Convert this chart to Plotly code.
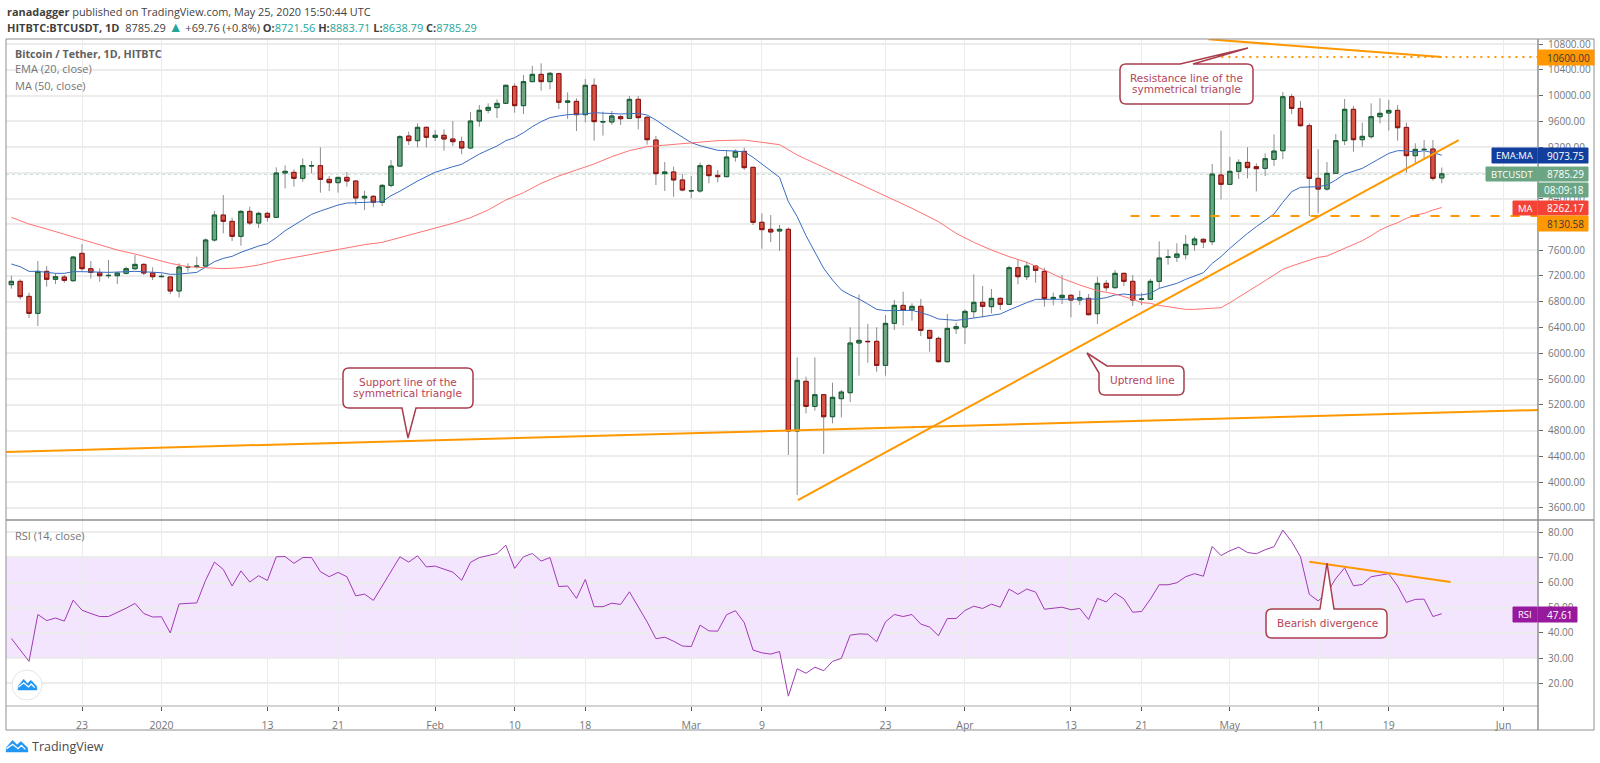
import pandas as pd
import plotly.graph_objects as go

# ---------- DATA ----------
dates = pd.date_range("2019-12-15", "2020-05-25", freq="D")

opens = [7065,7117,6884,6620,7272,7148,7184,7127,7551,7313,7251,7204,7204,7241,7313,7380,7246,
 7189,7184,6967,7339,7344,7354,7758,8146,8048,7815,8203,8022,8172,8110,8798,8808,8715,8907,8912,8699,8648,8730,8674,8410,8436,8343,8606,
 8906,9372,9300,9507,
 9352,9383,9326,9284,9186,9605,9771,9812,9879,10143,9843,10216,10329,10216,10340,9895,9910,9703,10159,9590,9590,9672,9646,9941,9662,9310,8788,8814,8690,
 8519,8519,8912,8762,8741,9046,9134,8886,8033,7924,7898,7924,4794,5565,5177,5358,5016,5296,5389,6160,6186,6186,5813,6465,6744,6672,6729,6356,6232,5870,6382,
 6408,6646,6791,6724,6853,6760,7329,7189,7355,7272,6848,6863,6900,6827,6853,6615,7086,7018,7241,7117,6838,6838,7117,7490,7490,7531,7686,7769,7732,8767,
 8622,8824,8963,8896,8870,9010,9144,9982,9801,9532,8715,8549,8793,9300,9786,9315,9362,9672,9729,9770,9506,9067,9160,9170,8721.56]
highs = [7204,7148,6941,7432,7355,7241,7215,7510,7696,7432,7318,7448,7267,7344,7525,7396,7334,
 7241,7199,7396,7396,7499,7784,8208,8456,8105,8220,8275,8198,8198,8886,8917,8855,9025,8984,9196,8751,8741,8813,8689,8524,8456,8627,9000,
 9388,9440,9569,9517,
 9465,9476,9605,9362,9745,9853,9879,9941,10170,10190,10319,10459,10500,10366,10355,10050,9957,10257,10267,9750,9760,9698,9993,9993,9683,9372,8969,8896,8783,
 8752,8958,8938,8845,9155,9165,9191,8896,8172,8146,7991,7955,5937,5637,5937,5358,5544,5430,6403,6915,6455,6403,6594,6827,6956,6775,6843,6361,6258,6610,6475,
 6682,7225,7044,6998,6868,7360,7463,7422,7370,7329,6941,7215,6920,6972,6920,7189,7137,7293,7251,7215,6941,7153,7738,7614,7707,7836,7810,7784,8937,9455,
 9051,9010,9196,8948,9103,9398,10055,10024,9915,9569,9165,8968,9403,9946,9838,9579,9879,9957,9931,9853,9579,9258,9310,9310,8883.71]
lows = [7003,6837,6548,6423,7034,7075,7096,7111,7282,7158,7111,7163,7075,7225,7293,7215,7137,
 7179,6920,6868,7267,7318,7334,7732,7861,7742,7670,7991,7944,8043,8105,8560,8586,8663,8793,8493,8518,8493,8586,8301,8224,8265,8286,8575,
 8896,9233,9196,9196,
 9295,9145,9217,9088,9176,9517,9724,9652,9869,9734,9714,10205,10076,10097,9791,9636,9450,9584,9300,9378,9548,9543,9636,9476,9238,8612,8519,8431,8514,
 8405,8493,8638,8653,8741,8974,8845,7991,7624,7727,7588,4422,3801,5068,5110,4437,4913,5006,5244,5653,5855,5715,5653,6361,6434,6506,6268,6025,5855,5855,6299,
 6144,6548,6558,6620,6672,6750,7070,7137,7096,6724,6744,6765,6558,6750,6589,6455,6962,7008,7044,6734,6750,6838,7008,7375,7417,7458,7593,7634,7680,8389,
 8612,8705,8715,8513,8751,8906,9015,9713,9517,8130,8172,8524,8782,9232,9129,9206,9331,9569,9455,9300,8803,8948,9000,8679,8638.79]
closes = [7117,6879,6620,7272,7148,7189,7132,7494,7313,7256,7204,7209,7246,7313,7380,7246,7189,
 7194,6967,7339,7344,7354,7758,8146,8048,7815,8203,8022,8172,8110,8798,8824,8715,8912,8912,8699,8648,8730,8674,8410,8436,8343,8606,8906,
 9362,9300,9507,9352,
 9383,9326,9284,9186,9605,9771,9817,9879,10159,9843,10216,10329,10216,10345,9895,9916,9703,10159,9595,9595,9683,9641,9941,9657,9315,8788,8814,8690,8534,
 8524,8912,8757,8741,9046,9134,8881,8033,7919,7883,7924,4794,5580,5177,5358,5016,5317,5399,6160,6201,6181,5813,6465,6744,6667,6729,6356,6232,5870,6387,6413,
 6651,6791,6729,6853,6760,7329,7189,7355,7287,6848,6868,6900,6827,6863,6599,7086,7018,7241,7117,6827,6843,7117,7479,7495,7541,7691,7774,7727,8782,8622,
 8824,8963,8881,8865,9020,9139,9982,9801,9532,8715,8549,8793,9300,9786,9315,9367,9672,9724,9770,9501,9067,9165,9165,8715,8785.29]

ema_dates = ["2019-12-15","2019-12-16","2019-12-17","2019-12-18","2019-12-19","2019-12-20","2019-12-21","2019-12-22","2019-12-23","2019-12-26","2019-12-29",
 "2020-01-01","2020-01-02","2020-01-03","2020-01-05","2020-01-06","2020-01-07","2020-01-08","2020-01-09","2020-01-10","2020-01-11","2020-01-12","2020-01-13","2020-01-14","2020-01-15","2020-01-16","2020-01-17","2020-01-18","2020-01-19","2020-01-20","2020-01-21","2020-01-22","2020-01-23","2020-01-24","2020-01-25","2020-01-26","2020-01-27","2020-01-28","2020-01-30",
 "2020-02-01","2020-02-03","2020-02-04","2020-02-06","2020-02-08","2020-02-09","2020-02-10","2020-02-11","2020-02-12","2020-02-13","2020-02-14","2020-02-15","2020-02-16","2020-02-17","2020-02-18","2020-02-19","2020-02-20","2020-02-21","2020-02-22","2020-02-23","2020-02-24","2020-02-25","2020-02-26","2020-02-27","2020-02-28","2020-02-29",
 "2020-03-01","2020-03-02","2020-03-03","2020-03-04","2020-03-05","2020-03-06","2020-03-07","2020-03-08","2020-03-09","2020-03-10","2020-03-11","2020-03-12","2020-03-13","2020-03-14","2020-03-15","2020-03-16","2020-03-17","2020-03-18","2020-03-19","2020-03-20","2020-03-21","2020-03-22","2020-03-23","2020-03-24","2020-03-25","2020-03-26","2020-03-27","2020-03-28","2020-03-29","2020-03-30","2020-03-31",
 "2020-04-01","2020-04-02","2020-04-03","2020-04-04","2020-04-05","2020-04-06","2020-04-07","2020-04-08","2020-04-09","2020-04-16","2020-04-17","2020-04-18","2020-04-19","2020-04-20","2020-04-21","2020-04-22","2020-04-23","2020-04-24","2020-04-25","2020-04-26","2020-04-27","2020-04-28","2020-04-29","2020-04-30",
 "2020-05-01","2020-05-02","2020-05-03","2020-05-04","2020-05-05","2020-05-06","2020-05-07","2020-05-08","2020-05-09","2020-05-10","2020-05-11","2020-05-12","2020-05-13","2020-05-14","2020-05-15","2020-05-16","2020-05-17","2020-05-18","2020-05-19","2020-05-20","2020-05-21","2020-05-22","2020-05-23","2020-05-24","2020-05-25"]
ema_vals = [7386,7344,7272,7272,7256,7241,7241,7267,7267,7256,7272,
 7251,7225,7230,7256,7334,7422,7473,7505,7567,7618,7665,7701,7794,7903,7991,8079,8156,8208,8260,8301,8332,8337,8343,8343,8353,8446,8516,8674,
 8809,8896,8933,9093,9217,9300,9346,9424,9517,9595,9657,9683,9703,9709,9714,9734,9724,9719,9714,9719,9724,9698,9621,9528,9440,9352,
 9269,9222,9181,9150,9145,9140,9129,9041,8938,8834,8731,8353,8120,7826,7577,7319,7137,6982,6905,6843,6765,6682,6662,6667,6667,6667,6631,6589,6532,6522,6512,
 6527,6553,6568,6589,6610,6672,6734,6786,6837,6843,6863,6905,6920,6905,6905,6931,7008,7044,7086,7148,7200,7251,7396,7500,
 7629,7748,7862,7965,8069,8162,8343,8508,8576,8586,8586,8612,8689,8782,8824,8870,8948,9025,9103,9144,9144,9124,9144,9113,9073.75]

ma_dates = ["2019-12-15","2019-12-17","2019-12-19","2019-12-21","2019-12-23","2019-12-25","2019-12-27","2019-12-29","2019-12-31",
 "2020-01-02","2020-01-04","2020-01-06","2020-01-08","2020-01-10","2020-01-12","2020-01-14","2020-01-16","2020-01-18","2020-01-20","2020-01-22","2020-01-24","2020-01-26","2020-01-28","2020-01-30",
 "2020-02-01","2020-02-03","2020-02-05","2020-02-07","2020-02-09","2020-02-11","2020-02-13","2020-02-15","2020-02-17","2020-02-19","2020-02-21","2020-02-23","2020-02-25","2020-02-27","2020-02-29",
 "2020-03-02","2020-03-04","2020-03-07","2020-03-09","2020-03-11","2020-03-13","2020-03-24","2020-03-26","2020-03-29","2020-03-31",
 "2020-04-02","2020-04-04","2020-04-06","2020-04-08","2020-04-10","2020-04-12","2020-04-14","2020-04-16","2020-04-18","2020-04-20","2020-04-21","2020-04-22","2020-04-23","2020-04-24","2020-04-25","2020-04-26","2020-04-27","2020-04-28","2020-04-29","2020-04-30",
 "2020-05-01","2020-05-02","2020-05-03","2020-05-04","2020-05-05","2020-05-06","2020-05-07","2020-05-08","2020-05-09","2020-05-10","2020-05-11","2020-05-12","2020-05-13","2020-05-14","2020-05-15","2020-05-16","2020-05-17","2020-05-18","2020-05-19","2020-05-20","2020-05-21","2020-05-22","2020-05-23","2020-05-24","2020-05-25"]
ma_vals = [8110,8006,7929,7846,7758,7680,7603,7541,7463,
 7396,7344,7323,7313,7329,7370,7437,7489,7541,7592,7644,7686,7722,7797,7862,
 7939,8017,8105,8224,8379,8493,8638,8752,8845,8938,9052,9145,9207,9233,9259,
 9284,9300,9310,9274,9238,9077,8379,8250,8043,7862,
 7722,7603,7500,7412,7293,7163,7060,6972,6920,6840,6786,6775,6744,6724,6703,6682,6682,6693,6693,6708,
 6786,6869,6957,7045,7127,7215,7303,7355,7396,7448,7489,7510,7567,7629,7691,7748,7825,7913,7975,8027,8094,8146,8172,8224,8262.17]

rsi_vals = [37.8,33.2,28.7,47.3,44.9,45.9,44.7,53.0,49.0,47.7,46.5,46.5,48.1,49.8,51.7,47.7,46.3,
 46.4,40.0,51.5,51.7,51.9,60.9,68.1,65.2,58.6,64.6,60.2,62.7,60.8,70.2,70.3,67.6,69.9,69.9,64.3,62.3,64.0,62.3,54.7,55.4,52.9,58.6,64.3,70.2,68.1,70.6,66.2,
 66.5,65.3,64.1,60.9,68.0,69.9,70.6,71.5,74.8,65.6,70.2,71.5,68.5,69.9,58.4,58.6,53.7,61.2,50.4,50.4,51.8,51.3,56.3,50.4,44.4,37.7,38.3,36.7,34.8,
 34.6,43.1,40.8,40.7,47.2,48.8,44.1,33.2,32.1,31.6,32.6,14.9,25.8,24.0,26.4,25.0,28.7,29.9,39.1,39.6,39.5,36.5,44.4,47.3,46.5,47.3,43.5,42.3,38.9,45.7,45.7,
 48.9,50.6,49.7,51.4,50.2,57.4,55.3,57.4,56.2,49.4,49.7,50.2,49.2,49.7,45.3,53.7,52.3,55.8,53.5,48.2,48.5,53.4,59.1,59.1,59.9,62.3,63.5,62.5,74.3,70.7,
 72.6,74.0,71.9,71.4,73.0,74.2,80.8,76.2,70.2,55.3,52.7,55.9,61.6,65.8,58.7,59.2,62.3,62.8,63.5,58.6,52.1,53.3,53.4,46.5,47.61]

support_dates = ["2019-12-14 09:26", "2020-06-04 21:35"]
support_vals = [4469, 5120]
uptrend_dates = ["2020-03-13 02:00", "2020-05-26 22:00"]
uptrend_vals = [3723, 9310]
resistance_dates = ["2020-04-28 14:00", "2020-05-25 00:00"]
resistance_vals = [10873, 10598]
rsi_trend_dates = ["2020-05-10 00:00", "2020-05-26 00:00"]
rsi_trend_vals = [68.2, 60.2]

hline_10600 = 10600.00
hline_8130 = 8130.58
last_price = 8785.29
price_ticks = list(range(3600, 11000, 400))
rsi_ticks = [20, 30, 40, 50, 60, 70, 80]
x_tick_dates = ["2019-12-23","2020-01-01","2020-01-13","2020-01-21","2020-02-01","2020-02-10","2020-02-18","2020-03-01","2020-03-09","2020-03-23","2020-04-01","2020-04-13","2020-04-21","2020-05-01","2020-05-11","2020-05-19","2020-06-01"]
x_tick_text = ["23","2020","13","21","Feb","10","18","Mar","9","23","Apr","13","21","May","11","19","Jun"]

# ---------- LAYOUT CONSTANTS ----------
W, H = 1600, 763
L, R, T, B = 6, 1538, 39, 706     # plot area in page pixels
SEP = 520                         # pane separator
X_RANGE = ["2019-12-14 09:26", "2020-06-04 21:35"]
FONT = "Open Sans"
CALL = "DejaVu Sans"
AX = "#757575"
GRID = "#ececec"
ORANGE = "#ff9800"
GREEN = "#6ba583"; GREEN_D = "#0f5c2e"
RED = "#d75442"; RED_D = "#8b0f0f"
PURPLE = "#a03ab4"
TEAL = "#26a69a"
AXF = 10

def xp(x): return (x - L) / (R - L)
def yp(y): return (B - y) / (B - T)

shapes, anns = [], []

def text(x, y, s, size=11, color=AX, anchor="left", font=FONT):
    anns.append(dict(xref="paper", yref="paper", x=xp(x), y=yp(y), text=s, showarrow=False,
                     xanchor=anchor, yanchor="middle", borderpad=0,
                     font=dict(family=font, size=size, color=color)))

def rect(x0, y0, x1, y1, fill, line=None):
    shapes.append(dict(type="rect", xref="paper", yref="paper", x0=xp(x0), x1=xp(x1), y0=yp(y0), y1=yp(y1),
                       fillcolor=fill, line=dict(color=line or fill, width=1), layer="above"))

def path(pts_cmds, fill=None, line=None, width=1):
    s = ""
    for c in pts_cmds:
        s += c[0]
        for i in range(1, len(c), 2):
            s += f" {xp(c[i]):.5f},{yp(c[i+1]):.5f} "
    shapes.append(dict(type="path", xref="paper", yref="paper", path=s + "Z" if fill else s,
                       fillcolor=fill or "rgba(0,0,0,0)",
                       line=dict(color=line or "rgba(0,0,0,0)", width=width), layer="above"))

def callout(x0, y0, x1, y1, side, t, r=6):
    c = []
    if side == "tl":
        c.append(("M", t[2][0], t[2][1]))
    else:
        c.append(("M", x0 + r, y0))
    if side == "top":
        c += [("L", *t[0]), ("L", *t[1]), ("L", *t[2])]
    c += [("L", x1 - r, y0), ("Q", x1, y0, x1, y0 + r), ("L", x1, y1 - r), ("Q", x1, y1, x1 - r, y1)]
    if side == "bottom":
        c += [("L", *t[0]), ("L", *t[1]), ("L", *t[2])]
    c += [("L", x0 + r, y1), ("Q", x0, y1, x0, y1 - r)]
    if side == "tl":
        c += [("L", *t[0]), ("L", *t[1])]
    else:
        c += [("L", x0, y0 + r), ("Q", x0, y0, x0 + r, y0)]
    path(c, fill="rgba(255,255,255,0.95)", line="#a93d4c", width=1.5)

# pane frames
rect(L, T, 1594, 730, "rgba(0,0,0,0)", "#8f8f8f")
shapes.append(dict(type="line", xref="paper", yref="paper", x0=xp(L), x1=xp(1594), y0=yp(SEP), y1=yp(SEP),
                   line=dict(color="#8f8f8f", width=1.5), layer="above"))
shapes.append(dict(type="line", xref="paper", yref="paper", x0=xp(L), x1=xp(R), y0=yp(B), y1=yp(B),
                   line=dict(color="#a8a8a8", width=1.2), layer="above"))
shapes.append(dict(type="line", xref="paper", yref="paper", x0=xp(R), x1=xp(R), y0=yp(T), y1=yp(730),
                   line=dict(color="#8f8f8f", width=1.5), layer="above"))

# value-anchored horizontal lines
shapes.append(dict(type="line", xref="paper", yref="y", x0=0, x1=1, y0=last_price, y1=last_price,
                   line=dict(color=GREEN, width=1, dash="dot"), layer="between"))
shapes.append(dict(type="line", xref="x", yref="y", x0="2020-04-29 06:00", x1=X_RANGE[1], y0=hline_10600, y1=hline_10600,
                   line=dict(color=ORANGE, width=2, dash="2px,5px"), layer="above"))
shapes.append(dict(type="line", xref="x", yref="y", x0="2020-04-19 18:00", x1=X_RANGE[1], y0=hline_8130, y1=hline_8130,
                   line=dict(color=ORANGE, width=2, dash="9px,11px"), layer="above"))
# RSI band
shapes.append(dict(type="rect", xref="paper", yref="y2", x0=0, x1=1, y0=30, y1=70,
                   fillcolor="rgba(153,21,255,0.11)", line=dict(width=0), layer="between"))
for v in (30, 70):
    shapes.append(dict(type="line", xref="paper", yref="y2", x0=0, x1=1, y0=v, y1=v,
                       line=dict(color="#b0a0b8", width=1, dash="4px,3px"), layer="between"))

# callouts
CT = "#b5445a"; CS = 10.5
callout(343, 368, 473, 408, "bottom", [(416, 408), (408, 438), (402, 408)])
text(408, 382, "Support line of the", CS, CT, "center", CALL)
text(408, 392.5, "symmetrical triangle", CS, CT, "center", CALL)
callout(1099, 366, 1184, 395, "tl", [(1099, 373), (1087, 353), (1107, 366)])
text(1142, 380, "Uptrend line", CS, CT, "center", CALL)
callout(1120, 64, 1253, 104, "top", [(1180, 64), (1248, 48), (1193, 64)])
text(1186, 78, "Resistance line of the", CS, CT, "center", CALL)
text(1186, 89, "symmetrical triangle", CS, CT, "center", CALL)
callout(1266, 609, 1387, 638, "top", [(1320, 609), (1327, 563), (1334, 609)])
text(1327, 623, "Bearish divergence", CS, CT, "center", CALL)

# right-hand labels
LBL = 1588
rect(R, 50, 1594, 65, ORANGE)
text(1546, 57.5, "10600.00", AXF, "#3a3a3a")
rect(1492, 148, R - 1, 163, "#123f9e"); rect(R, 148, LBL, 163, "#123f9e")
text(1514.5, 155.5, "EMA:MA", 9.5, "#ffffff", "center"); text(1546, 155.5, "9073.75", AXF, "#ffffff")
rect(1486, 167, R - 1, 181, GREEN); rect(R, 167, LBL, 181, GREEN)
text(1511.5, 174, "BTCUSDT", 9.5, "#ffffff", "center"); text(1546, 174, "8785.29", AXF, "#ffffff")
rect(R, 183, LBL, 197, GREEN)
text(1543, 190, "08:09:18", AXF, "#ffffff")
rect(1513, 201, R - 1, 215, "#f44336"); rect(R, 201, LBL, 215, "#f44336")
text(1525, 208, "MA", 9.5, "#ffffff", "center"); text(1546, 208, "8262.17", AXF, "#ffffff")
rect(R, 216, LBL, 231, ORANGE)
text(1546, 223.5, "8130.58", AXF, "#3a3a3a")
rect(1513, 607, R - 1, 622, "#971a9e"); rect(R, 607, 1577, 622, "#971a9e")
text(1525, 614.5, "RSI", 9.5, "#ffffff", "center"); text(1546, 614.5, "47.61", AXF, "#ffffff")

# header and pane legends
text(6, 11, '<b>ranadagger</b> published on TradingView.com, May 25, 2020 15:50:44 UTC', 10.9, "#3f3f3f")
text(6, 27, '<b>HITBTC:BTCUSDT, 1D</b>  8785.29 <span style="color:%s;font-size:14px">▲</span> +69.76 (+0.8%%) <b>O:</b><span style="color:%s">8721.56</span> <b>H:</b><span style="color:%s">8883.71</span> <b>L:</b><span style="color:%s">8638.79</span> <b>C:</b><span style="color:%s">8785.29</span>' % (TEAL, TEAL, TEAL, TEAL, TEAL), 11, "#3f3f3f")
text(14, 54, "<b>Bitcoin / Tether, 1D, HITBTC</b>", 10.7, "#616161")
text(14, 69, "EMA (20, close)", 11, "#757575")
text(14, 85, "MA (50, close)", 11, "#757575")
text(14, 535, "RSI (14, close)", 11, "#757575")

# logo
shapes.append(dict(type="circle", xref="paper", yref="paper", x0=xp(12), x1=xp(42), y0=yp(670), y1=yp(700),
                   fillcolor="#ffffff", line=dict(color="#e6e6e6", width=1), layer="above"))
def cloud(x, y, w, h):
    f = lambda a, b: (x + a * w, y + b * h)
    path([("M", *f(0, 1)), ("L", *f(0.02, 0.62)), ("L", *f(0.3, 0.02)), ("L", *f(0.5, 0.4)), ("L", *f(0.68, 0.12)),
          ("L", *f(0.98, 0.65)), ("L", *f(1, 1)), ("L", *f(0, 1))], fill="#2196f3", line="#2196f3", width=0.5)
    path([("M", *f(0.03, 0.72)), ("L", *f(0.3, 0.35)), ("L", *f(0.55, 0.72)), ("L", *f(0.7, 0.45)), ("L", *f(0.88, 0.78))],
         line="#ffffff", width=1.3)
cloud(18, 679, 19, 11)
cloud(6, 740, 22, 12)
text(31, 746, "TradingView", 12.5, "#4a4a4a")

# ---------- TRACES ----------
bt = [max(o, c) for o, c in zip(opens, closes)]
bb = [min(o, c) for o, c in zip(opens, closes)]
WICK = "#8d8d8d"
fig = go.Figure()
fig.add_trace(go.Scatter(x=ema_dates, y=ema_vals, mode="lines", line=dict(color="#3a6cc0", width=1), hoverinfo="skip"))
fig.add_trace(go.Scatter(x=ma_dates, y=ma_vals, mode="lines", line=dict(color="#ff7272", width=1), hoverinfo="skip"))
fig.add_trace(go.Candlestick(x=dates, open=opens, high=highs, low=lows, close=closes, whiskerwidth=0,
                             increasing=dict(line=dict(color=WICK, width=1), fillcolor=WICK),
                             decreasing=dict(line=dict(color=WICK, width=1), fillcolor=WICK)))
fig.add_trace(go.Candlestick(x=dates, open=opens, high=bt, low=bb, close=closes, whiskerwidth=0,
                             increasing=dict(line=dict(color=GREEN_D, width=1), fillcolor=GREEN),
                             decreasing=dict(line=dict(color=RED_D, width=1), fillcolor=RED)))
for dd, vv in ((support_dates, support_vals), (uptrend_dates, uptrend_vals), (resistance_dates, resistance_vals)):
    fig.add_trace(go.Scatter(x=dd, y=vv, mode="lines", line=dict(color=ORANGE, width=2), hoverinfo="skip"))
fig.add_trace(go.Scatter(x=dates, y=rsi_vals, xaxis="x2", yaxis="y2", mode="lines",
                         line=dict(color=PURPLE, width=1), hoverinfo="skip"))
fig.add_trace(go.Scatter(x=rsi_trend_dates, y=rsi_trend_vals, xaxis="x2", yaxis="y2", mode="lines",
                         line=dict(color=ORANGE, width=2), hoverinfo="skip"))

split = (B - SEP) / (B - T)
fig.update_layout(
    width=W, height=H, autosize=False, showlegend=False, hovermode=False,
    paper_bgcolor="#ffffff", plot_bgcolor="#ffffff",
    margin=dict(l=L, r=W - R, t=T, b=H - B, pad=0),
    font=dict(family=FONT, size=11, color=AX),
    shapes=shapes, annotations=anns,
    xaxis=dict(type="date", range=X_RANGE, domain=[0, 1], anchor="y", tickvals=x_tick_dates, ticktext=[""] * len(x_tick_text),
               showgrid=True, gridcolor=GRID, gridwidth=1, ticks="", showticklabels=False, zeroline=False,
               rangeslider=dict(visible=False)),
    xaxis2=dict(type="date", range=X_RANGE, domain=[0, 1], anchor="y2", tickvals=x_tick_dates, ticktext=x_tick_text,
                showgrid=True, gridcolor=GRID, gridwidth=1, ticks="outside", ticklen=4, tickcolor="#555555",
                tickfont=dict(family=FONT, size=10.5, color=AX), ticklabelstandoff=5, zeroline=False, tickangle=0),
    yaxis=dict(domain=[split, 1], anchor="x", side="right", range=[3413.3, 10877.6], tickvals=price_ticks,
               tickformat=".2f", showgrid=True, gridcolor=GRID, gridwidth=1.6, ticks="outside", ticklen=4,
               tickcolor="#666666", tickfont=dict(family=FONT, size=AXF, color=AX), zeroline=False, ticklabelstandoff=3),
    yaxis2=dict(domain=[0, split], anchor="x2", side="right", range=[11, 84.8], tickvals=rsi_ticks,
                tickformat=".2f", showgrid=True, gridcolor=GRID, gridwidth=1.6, ticks="outside", ticklen=4,
                tickcolor="#666666", tickfont=dict(family=FONT, size=AXF, color=AX), zeroline=False, ticklabelstandoff=3),
)
fig.write_html("out.html", config=dict(displayModeBar=False),
               post_script="document.body.style.margin='0';document.body.style.overflow='hidden';")
